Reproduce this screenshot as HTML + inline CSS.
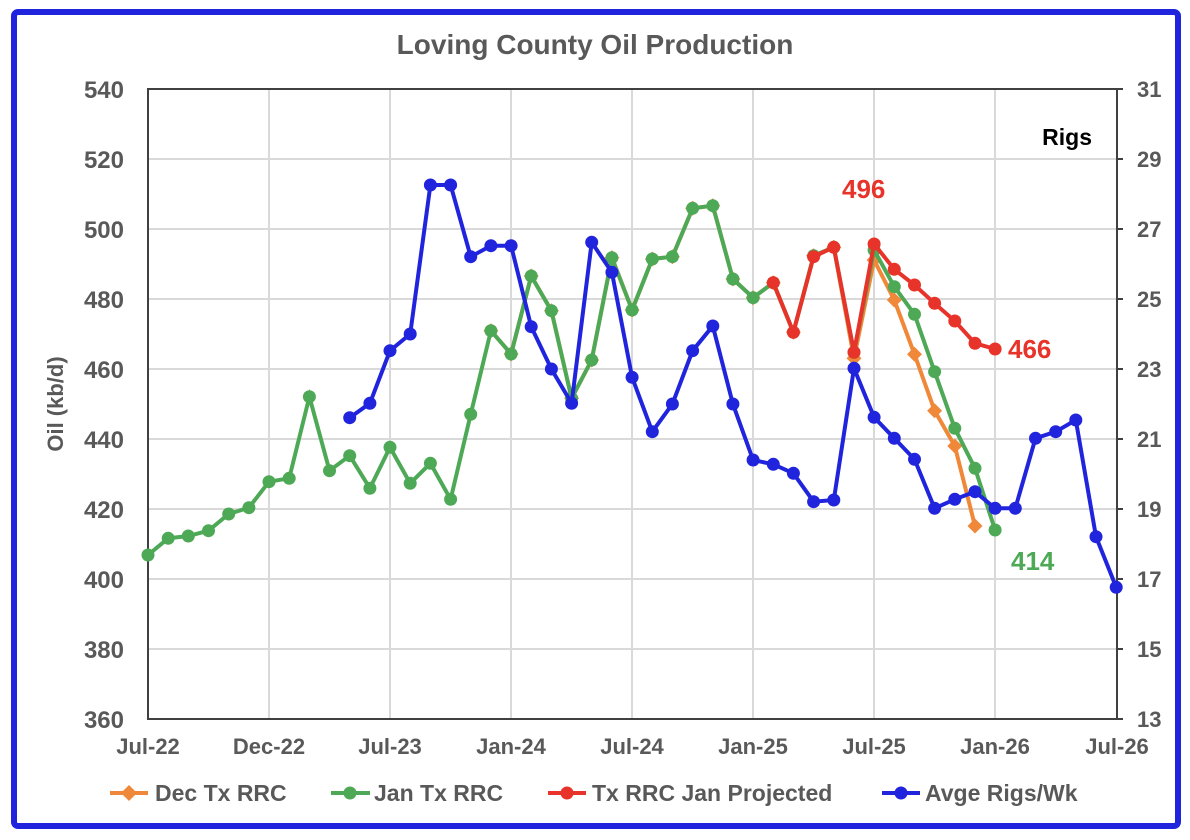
<!DOCTYPE html>
<html><head><meta charset="utf-8"><style>
html,body{margin:0;padding:0;background:#fff}
svg{display:block;font-family:"Liberation Sans",Arial,sans-serif;font-weight:bold}
</style></head><body>
<svg width="1190" height="840" viewBox="0 0 1190 840" xmlns="http://www.w3.org/2000/svg">
<defs>
<marker id="mb" viewBox="-8 -8 16 16" markerWidth="16" markerHeight="16" markerUnits="userSpaceOnUse"><circle r="6.5" fill="#2024DC"/></marker>
<marker id="mg" viewBox="-8 -8 16 16" markerWidth="16" markerHeight="16" markerUnits="userSpaceOnUse"><circle r="6.5" fill="#4EA957"/></marker>
<marker id="mr" viewBox="-8 -8 16 16" markerWidth="16" markerHeight="16" markerUnits="userSpaceOnUse"><circle r="6.5" fill="#E8332A"/></marker>
<marker id="mo" viewBox="-8 -8 16 16" markerWidth="16" markerHeight="16" markerUnits="userSpaceOnUse"><path d="M0,-7.5L7.5,0L0,7.5L-7.5,0Z" fill="#F0883A"/></marker>
</defs>
<rect x="14" y="12" width="1164" height="814" rx="4" fill="#fff" stroke="#2024DC" stroke-width="6"/>
<text x="595" y="54" text-anchor="middle" font-size="28" fill="#595959">Loving County Oil Production</text>
<g stroke="#d9d9d9" stroke-width="2">
<line x1="148" y1="159" x2="1117" y2="159"/><line x1="148" y1="229" x2="1117" y2="229"/><line x1="148" y1="299" x2="1117" y2="299"/><line x1="148" y1="369" x2="1117" y2="369"/><line x1="148" y1="439" x2="1117" y2="439"/><line x1="148" y1="509" x2="1117" y2="509"/><line x1="148" y1="579" x2="1117" y2="579"/><line x1="148" y1="649" x2="1117" y2="649"/>
<line x1="269" y1="89" x2="269" y2="719"/><line x1="390" y1="89" x2="390" y2="719"/><line x1="511" y1="89" x2="511" y2="719"/><line x1="632" y1="89" x2="632" y2="719"/><line x1="753" y1="89" x2="753" y2="719"/><line x1="874" y1="89" x2="874" y2="719"/><line x1="995" y1="89" x2="995" y2="719"/>
</g>
<g stroke="#404040" stroke-width="2" fill="none">
<rect x="148" y="89" width="969" height="630"/>
<path d="M1117 159h6M1117 229h6M1117 299h6M1117 369h6M1117 439h6M1117 509h6M1117 579h6M1117 649h6M1117 719h6M1117 89h6"/>
</g>
<g font-size="24" fill="#595959" text-anchor="end">
<text x="124" y="98">540</text><text x="124" y="168">520</text><text x="124" y="238">500</text><text x="124" y="308">480</text><text x="124" y="378">460</text><text x="124" y="448">440</text><text x="124" y="518">420</text><text x="124" y="588">400</text><text x="124" y="658">380</text><text x="124" y="728">360</text>
</g>
<g font-size="22" fill="#595959">
<text x="1137" y="97">31</text><text x="1137" y="167">29</text><text x="1137" y="237">27</text><text x="1137" y="307">25</text><text x="1137" y="377">23</text><text x="1137" y="447">21</text><text x="1137" y="517">19</text><text x="1137" y="587">17</text><text x="1137" y="657">15</text><text x="1137" y="727">13</text>
</g>
<text transform="translate(63,404) rotate(-90)" text-anchor="middle" font-size="22" fill="#595959">Oil (kb/d)</text>
<g font-size="22" fill="#595959" text-anchor="middle">
<text x="148" y="754">Jul-22</text><text x="269" y="754">Dec-22</text><text x="390" y="754">Jul-23</text><text x="511" y="754">Jan-24</text><text x="632" y="754">Jul-24</text><text x="753" y="754">Jan-25</text><text x="874" y="754">Jul-25</text><text x="995" y="754">Jan-26</text><text x="1117" y="754">Jul-26</text>
</g>
<text x="1092" y="145" font-size="23" fill="#000" text-anchor="end">Rigs</text>

<polyline fill="none" stroke="#F0883A" stroke-width="4" marker-start="url(#mo)" marker-mid="url(#mo)" marker-end="url(#mo)" points="490.9,330.7 511.1,354 531.2,276 551.4,310.7 571.6,398.3 591.7,360 611.9,257.7 632.1,310 652.3,259 672.4,256.7 692.6,208.3 712.8,205.7 732.9,279 753.1,297.7 773.3,282.7 793.4,332.3 813.6,255.7 833.8,247.3 854,358.3 874.1,260 894.3,300 914.5,354.3 934.6,410.7 954.8,446 975,526"/>
<polyline fill="none" stroke="#4EA957" stroke-width="4" marker-start="url(#mg)" marker-mid="url(#mg)" marker-end="url(#mg)" points="148,555 168.2,538.3 188.3,536 208.5,530.7 228.7,514 248.9,507.7 269,481.7 289.2,478.3 309.4,396.7 329.5,470.7 349.7,455.7 369.9,488.3 390,447.3 410.2,483.3 430.4,463.3 450.6,499.3 470.7,414.3 490.9,330.7 511.1,354 531.2,276 551.4,310.7 571.6,398.3 591.7,360 611.9,257.7 632.1,310 652.3,259 672.4,256.7 692.6,208.3 712.8,205.7 732.9,279 753.1,297.7 773.3,282.7 793.4,332.3 813.6,255.7 833.8,247.3 854,352.3 874.1,250 894.3,286.7 914.5,314.3 934.6,371.7 954.8,428.3 975,468.3 995.1,530"/>
<polyline fill="none" stroke="#E8332A" stroke-width="4" marker-start="url(#mr)" marker-mid="url(#mr)" marker-end="url(#mr)" points="773.3,282.7 793.4,332.3 813.6,256.7 833.8,247.3 854,352.3 874.1,244 894.3,269.3 914.5,285 934.6,303.3 954.8,321 975,343.3 995.1,349"/>
<polyline fill="none" stroke="#2024DC" stroke-width="4" marker-start="url(#mb)" marker-mid="url(#mb)" marker-end="url(#mb)" points="349.7,417.7 369.9,403.3 390,350.7 410.2,334 430.4,185 450.6,185 470.7,256.7 490.9,245.7 511.1,245.7 531.2,326.7 551.4,369 571.6,403.3 591.7,242.3 611.9,272.3 632.1,377.3 652.3,431.7 672.4,404 692.6,350.7 712.8,326 732.9,404 753.1,460 773.3,464.3 793.4,473.3 813.6,501.7 833.8,500 854,368.3 874.1,417.3 894.3,438.3 914.5,459.3 934.6,508.3 954.8,499.3 975,491.7 995.1,508.3 1015.3,508.3 1035.5,438.3 1055.7,431.7 1075.8,420 1096,536.7 1116.2,587.3"/>

<text x="842" y="198" font-size="26" fill="#E8332A">496</text>
<text x="1008" y="358" font-size="26" fill="#E8332A">466</text>
<text x="1011" y="570" font-size="26" fill="#4EA957">414</text>

<g font-size="23" fill="#595959">
<line x1="110" y1="793" x2="148" y2="793" stroke="#F0883A" stroke-width="4"/><path d="M129,785L137,793L129,801L121,793Z" fill="#F0883A"/>
<text x="155" y="801">Dec Tx RRC</text>
<line x1="331" y1="793" x2="370" y2="793" stroke="#4EA957" stroke-width="4"/><circle cx="350" cy="793" r="6.5" fill="#4EA957"/>
<text x="374" y="801">Jan Tx RRC</text>
<line x1="548" y1="793" x2="586" y2="793" stroke="#E8332A" stroke-width="4"/><circle cx="567" cy="793" r="6.5" fill="#E8332A"/>
<text x="592" y="801">Tx RRC Jan Projected</text>
<line x1="882" y1="793" x2="920" y2="793" stroke="#2024DC" stroke-width="4"/><circle cx="901" cy="793" r="6.5" fill="#2024DC"/>
<text x="925" y="801">Avge Rigs/Wk</text>
</g>
</svg>
</body></html>
